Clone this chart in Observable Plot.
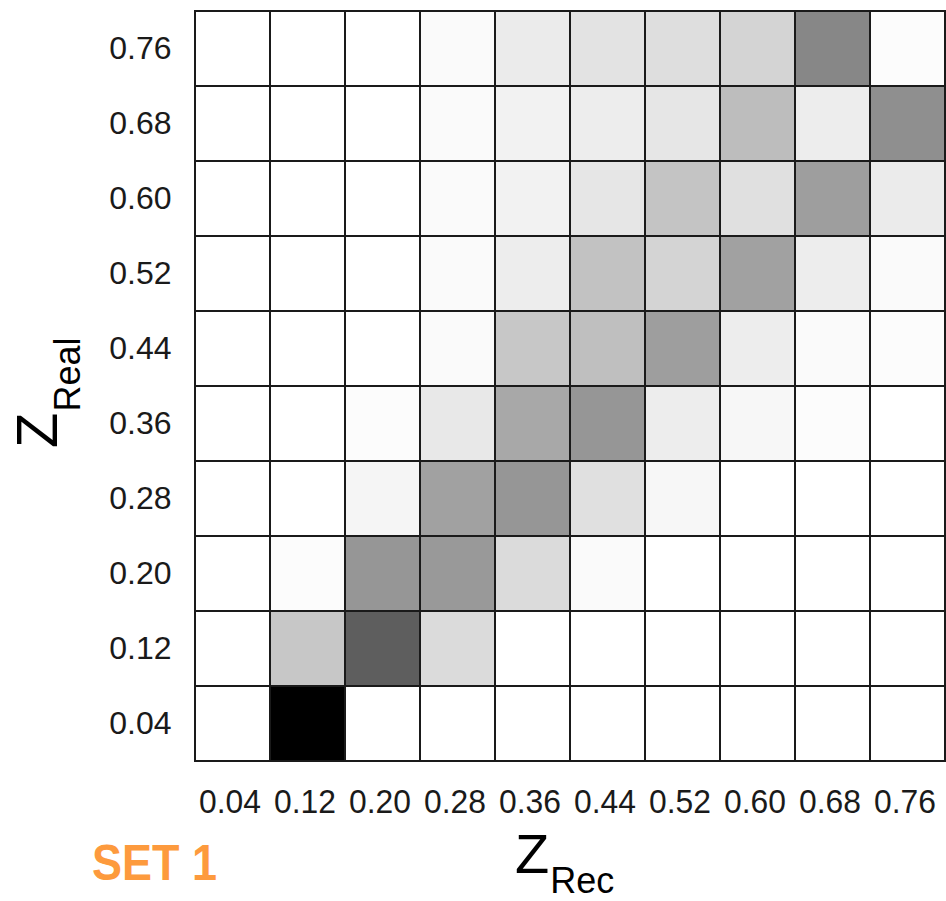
<!DOCTYPE html>
<html>
<head>
<meta charset="utf-8">
<script src="https://cdn.jsdelivr.net/npm/d3@7"></script>
<script src="https://cdn.jsdelivr.net/npm/@observablehq/plot@0.6"></script>
<style>
  body { margin: 0; background: #fff; }
  #chart svg { display: block; }
</style>
</head>
<body>
<div id="chart"></div>
<script>
// Tick labels
const zRec  = ["0.04","0.12","0.20","0.28","0.36","0.44","0.52","0.60","0.68","0.76"];
const zReal = ["0.04","0.12","0.20","0.28","0.36","0.44","0.52","0.60","0.68","0.76"];

// Relative frequency (0 = white, 100 = black), one array per Z_Real row, columns follow zRec
const real076 = [0, 0, 0, 2, 8, 11, 13, 17, 47, 1];
const real068 = [0, 0, 0, 2, 5, 7, 10, 26, 7, 44];
const real060 = [0, 0, 0, 2, 5, 10, 23, 12, 38, 8];
const real052 = [0, 0, 0, 2, 7, 24, 17, 37, 7, 2];
const real044 = [0, 0, 0, 2, 22, 25, 38, 7, 2, 1];
const real036 = [0, 0, 1, 9, 34, 41, 7, 3, 1, 0];
const real028 = [0, 0, 4, 37, 41, 12, 3, 0, 0, 0];
const real020 = [0, 1, 41, 40, 14, 2, 0, 0, 0, 0];
const real012 = [0, 22, 63, 14, 0, 0, 0, 0, 0, 0];
const real004 = [0, 100, 0, 0, 0, 0, 0, 0, 0, 0];

const rows = {
  "0.76": real076, "0.68": real068, "0.60": real060, "0.52": real052, "0.44": real044,
  "0.36": real036, "0.28": real028, "0.20": real020, "0.12": real012, "0.04": real004
};

const cells = [];
for (const real of zReal) {
  rows[real].forEach((v, i) => cells.push({rec: zRec[i], real, v}));
}

const W = 946, H = 901;
const mL = 194, mR = 0, mT = 10, mB = 139;

const plot = Plot.plot({
  width: W,
  height: H,
  marginLeft: mL,
  marginRight: mR,
  marginTop: mT,
  marginBottom: mB,
  style: "font-family: 'Liberation Sans', Arial, sans-serif; font-size: 32px; color: #1a1a1a; background: #fff;",
  x: {domain: zRec, padding: 0, axis: "bottom", tickSize: 0, tickPadding: 26, label: null},
  y: {domain: zReal.slice().reverse(), padding: 0, axis: "left", tickSize: 0, tickPadding: 23, label: null},
  color: {type: "linear", domain: [0, 100], range: ["#ffffff", "#000000"]},
  marks: [
    Plot.cell(cells, {x: "rec", y: "real", fill: "v", stroke: "#1a1a1a", strokeWidth: 2, inset: 0})
  ]
});

document.getElementById("chart").appendChild(plot);

const svg = d3.select(plot);
const font = "'Liberation Sans', Arial, sans-serif";

// Slightly taller x tick labels, as in the reference
svg.selectAll('[aria-label^="x-axis"] text')
  .style("font-size", "34px")
  .attr("textLength", 62)
  .attr("lengthAdjust", "spacingAndGlyphs")
  .attr("dx", -3);

// Z_Rec axis title
const tRec = svg.append("text")
  .attr("x", 515).attr("y", 873)
  .attr("text-anchor", "start")
  .attr("font-family", font).attr("font-size", 56).attr("fill", "#000");
tRec.append("tspan").text("Z");
tRec.append("tspan").attr("font-size", 36).attr("dy", 20).attr("dx", 1).text("Rec");

// Z_Real axis title
const tReal = svg.append("text")
  .attr("transform", "translate(57,448) rotate(-90)")
  .attr("text-anchor", "start")
  .attr("font-family", font).attr("font-size", 58).attr("fill", "#000");
tReal.append("tspan").text("Z");
tReal.append("tspan").attr("font-size", 36).attr("dy", 23).attr("dx", 1).text("Real");

// SET 1 caption
svg.append("text")
  .attr("x", 92).attr("y", 880)
  .attr("text-anchor", "start")
  .attr("font-family", font).attr("font-size", 50).attr("font-weight", "bold")
  .attr("fill", "#fd9a3d")
  .attr("textLength", 125).attr("lengthAdjust", "spacingAndGlyphs")
  .text("SET 1");
</script>
</body>
</html>
